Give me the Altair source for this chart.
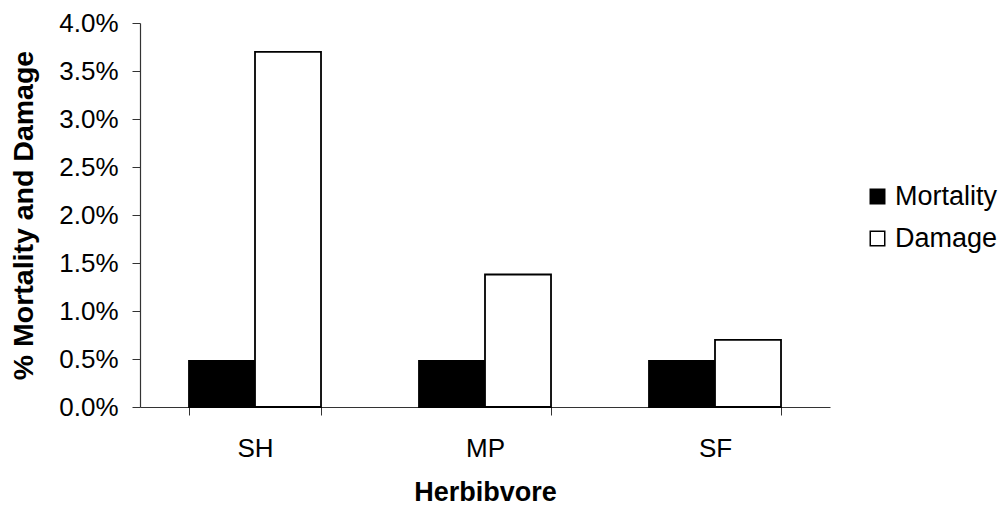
import altair as alt
import pandas as pd

categories = ["SH", "MP", "SF"]
mortality = [0.0048, 0.0048, 0.0048]
damage = [0.0370, 0.0138, 0.0070]
series = ["Mortality", "Damage"]

rows = []
for c, m, d in zip(categories, mortality, damage):
    rows.append({"Herbibvore": c, "Series": "Mortality", "Value": m})
    rows.append({"Herbibvore": c, "Series": "Damage", "Value": d})
df = pd.DataFrame(rows)

FONT = "Liberation Sans"

chart = alt.Chart(df).mark_bar(stroke="black", strokeWidth=1.8).encode(
    x=alt.X("Herbibvore:N", sort=categories,
            scale=alt.Scale(paddingInner=0.426, paddingOuter=0.213),
            axis=alt.Axis(title="Herbibvore", labelAngle=0, tickBand="extent",
                          tickSize=8, labelPadding=20, titlePadding=18,
                          domainColor="#333333", tickColor="#333333", domainWidth=1.2)),
    xOffset=alt.XOffset("Series:N", sort=series),
    y=alt.Y("Value:Q", scale=alt.Scale(domain=[0, 0.04], nice=False),
            axis=alt.Axis(title="% Mortality and Damage", format=".1%",
                          values=[i * 0.005 for i in range(9)], grid=False,
                          tickSize=8, labelPadding=14, titlePadding=20,
                          titleFontSize=28.5,
                          domainColor="#333333", tickColor="#333333", domainWidth=1.2)),
    color=alt.Color("Series:N", sort=series,
                    scale=alt.Scale(domain=series, range=["black", "white"]),
                    legend=alt.Legend(title=None, orient="none", legendX=724, legendY=160,
                                      symbolType="square", symbolSize=210,
                                      symbolStrokeColor="black", symbolStrokeWidth=1.5,
                                      labelFontSize=27, labelFont=FONT, labelColor="black",
                                      labelOffset=4, rowPadding=14)),
).properties(
    width=690, height=384,
    padding={"left": 140, "top": 23, "right": 168, "bottom": 102},
    autosize=alt.AutoSizeParams(type="none"),
).configure_view(stroke=None).configure_axis(
    labelFont=FONT, labelFontSize=26, labelColor="black",
    titleFont=FONT, titleFontSize=27, titleFontWeight="bold", titleColor="black",
)

chart.save("out.html", embed_options={"renderer": "svg", "actions": False})
